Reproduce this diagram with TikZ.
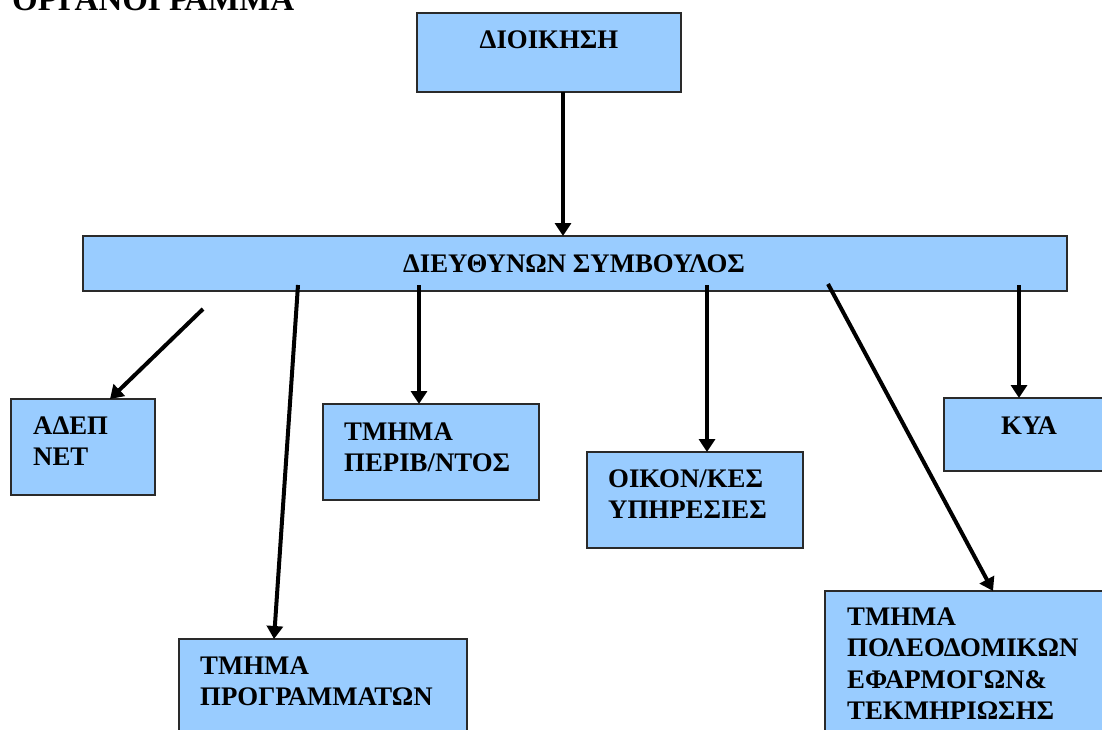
\documentclass[tikz,border=0pt]{standalone}
\usepackage{fontspec}
\setmainfont{Liberation Serif}
\usetikzlibrary{arrows.meta}
\definecolor{boxblue}{HTML}{99CCFF}
\definecolor{boxline}{HTML}{2A2A2A}
\tikzset{
  unitbox/.style={draw=boxline, line width=1.8pt, fill=boxblue, rectangle, inner sep=0pt, outer sep=0pt, anchor=north west},
  boxtext/.style={inner sep=0pt, font=\fontsize{26.8}{31.5}\selectfont\bfseries},
  link/.style={line width=4pt, -{Triangle[width=16pt,length=13pt]}},
}
\newcommand{\lines}[1]{\begin{tabular}[t]{@{}l@{}}#1\end{tabular}}
\begin{document}
\begin{tikzpicture}[x=1pt,y=-1pt]
\useasboundingbox (0,0) rectangle (1102,729);
\clip (0,0) rectangle (1102,729);
% title
\node[anchor=base west, inner sep=0pt, font=\fontsize{33}{38}\selectfont\bfseries] (title) at (12,10) {ΟΡΓΑΝΟΓΡΑΜΜΑ};
% boxes
\node[unitbox, minimum width=264pt, minimum height=79pt] (dioik) at (417,13) {};
\node[unitbox, minimum width=984pt, minimum height=55pt] (ceo) at (83,236) {};
\node[unitbox, minimum width=144pt, minimum height=96pt] (adep) at (11,399) {};
\node[unitbox, minimum width=216pt, minimum height=96pt] (perib) at (323,404) {};
\node[unitbox, minimum width=216pt, minimum height=96pt] (oikon) at (587,452) {};
\node[unitbox, minimum width=170pt, minimum height=73pt] (kya) at (944,398) {};
\node[unitbox, minimum width=288pt, minimum height=110pt] (progr) at (179,639) {};
\node[unitbox, minimum width=290pt, minimum height=160pt] (poleod) at (825,591) {};
% texts
\node[boxtext, anchor=base] (tdioik) at (549,48) {ΔΙΟΙΚΗΣΗ};
\node[boxtext, anchor=base] (tceo) at (574,272) {ΔΙΕΥΘΥΝΩΝ ΣΥΜΒΟΥΛΟΣ};
\node[boxtext, anchor=base west] (tadep) at (33,434) {\lines{ΑΔΕΠ\\ΝΕΤ}};
\node[boxtext, anchor=base west] (tperib) at (344,440) {\lines{ΤΜΗΜΑ\\ΠΕΡΙΒ/ΝΤΟΣ}};
\node[boxtext, anchor=base west] (toikon) at (608,487) {\lines{ΟΙΚΟΝ/ΚΕΣ\\ΥΠΗΡΕΣΙΕΣ}};
\node[boxtext, anchor=base] (tkya) at (1029,434) {ΚΥΑ};
\node[boxtext, anchor=base west] (tprogr) at (200,674) {\lines{ΤΜΗΜΑ\\ΠΡΟΓΡΑΜΜΑΤΩΝ}};
\node[boxtext, anchor=base west] (tpoleod) at (847,625) {\lines{ΤΜΗΜΑ\\ΠΟΛΕΟΔΟΜΙΚΩΝ\\ΕΦΑΡΜΟΓΩΝ\&\\ΤΕΚΜΗΡΙΩΣΗΣ}};
% connector ends
\coordinate (s0) at (563,92);
\coordinate (s1) at (203,309);
\coordinate (e1) at (110,399);
\coordinate (s2) at (298,285);
\coordinate (e2) at (274,639);
\coordinate (s3) at (419,285);
\coordinate (s4) at (707,285);
\coordinate (s5) at (828,284);
\coordinate (e5) at (993,591);
\coordinate (s6) at (1019,285);
% connectors
\draw[link] (s0) -- (s0 |- ceo.north);
\draw[link] (s1) -- (e1);
\draw[link] (s2) -- (e2);
\draw[link] (s3) -- (s3 |- perib.north);
\draw[link] (s4) -- (s4 |- oikon.north);
\draw[link] (s5) -- (e5);
\draw[link] (s6) -- (s6 |- kya.north);
\end{tikzpicture}
\end{document}
